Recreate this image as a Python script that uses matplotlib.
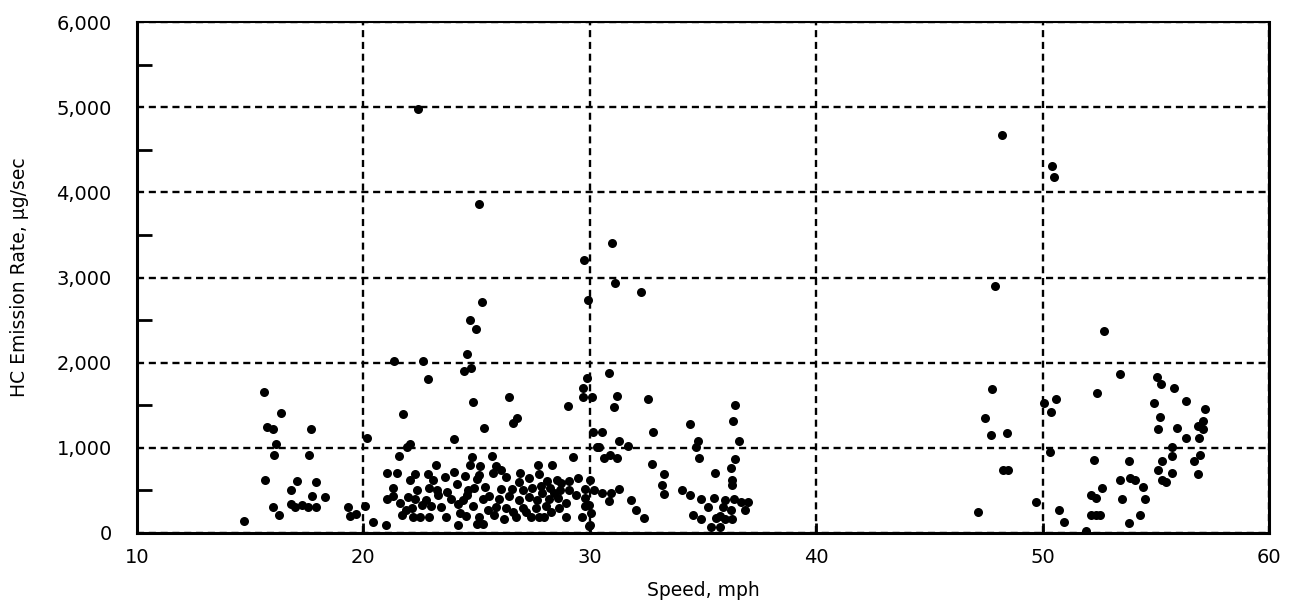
import matplotlib
matplotlib.use("Agg")
import matplotlib.pyplot as plt
import numpy as np
from matplotlib.ticker import FuncFormatter, MultipleLocator

# speed (mph) and HC emission rate (ug/sec)
speed_mph = [
    # 14-20 mph
    14.75, 15.60, 16.39, 15.75, 16.02, 17.71, 16.15, 16.04, 17.59, 15.66,
    17.06, 17.93, 16.81, 17.72, 18.30, 16.00, 16.79, 17.00, 17.28, 17.54,
    17.93, 16.30, 19.33, 19.40, 19.66, 20.06, 20.16,
    # 20-25 mph
    21.74, 22.06, 21.92, 23.99, 24.84, 21.57, 24.81, 21.04, 21.50, 22.28,
    22.86, 23.23, 22.06, 24.69, 24.47, 24.15, 21.33, 22.38, 22.88, 23.26,
    23.70, 24.62, 21.04, 21.33, 21.62, 21.99, 22.28, 22.79, 23.01, 23.45,
    23.89, 24.18, 24.40, 24.84, 22.14, 21.70, 22.21, 22.50, 22.91, 23.67,
    24.25, 24.55, 20.43, 21.01, 24.20, 25.01,
    # 25-30 mph
    29.02, 25.31, 26.59, 26.77, 30.13, 30.32, 25.69, 27.73, 28.35, 29.25,
    25.16, 25.86, 26.08, 25.71, 25.13, 27.76, 28.13, 28.57, 28.72, 29.08,
    26.86, 24.87, 25.39, 26.08, 26.57, 27.03, 27.44, 27.84, 28.23, 28.67,
    29.08, 29.81, 30.18, 25.28, 25.57, 26.01, 26.45, 26.89, 27.32, 27.69,
    28.20, 28.61, 28.93, 29.81, 25.86, 26.30, 27.03, 27.62, 28.06, 28.64,
    29.81, 25.13, 25.79, 26.74, 27.40, 27.76, 27.98, 28.93, 29.66, 25.28,
    29.96, 30.00, 29.95, 30.05,
    23.10, 23.60, 24.00, 26.30, 26.90, 27.30, 27.90, 28.40, 29.40, 29.50,
    26.60, 27.20, 28.30, 24.60, 25.00, 25.50, 26.20, 23.30, 22.60, 21.90,
    # high readings 20-31 mph
    22.43, 25.13, 29.74, 29.93, 25.25, 24.69, 24.98, 24.57, 21.36, 22.65,
    24.43, 24.77, 22.84, 29.88, 29.70, 30.10, 26.45, 29.72, 31.00,
    # 30-37 mph
    31.10, 32.27, 30.83, 31.20, 31.05, 32.56, 30.54, 31.30, 31.68, 30.39,
    32.81, 30.61, 30.91, 31.20, 34.42, 34.78, 34.71, 34.81, 36.39, 36.32,
    36.57, 36.39, 36.24, 36.27, 36.27, 32.76, 33.29, 33.20, 33.29, 35.51,
    34.05, 34.42, 30.54, 30.95, 31.30, 30.86, 31.83, 32.03, 32.38, 30.03,
    34.90, 35.22, 35.48, 35.95, 35.88, 36.36, 36.68, 36.97, 36.83, 36.24,
    34.56, 34.93, 35.58, 35.73, 35.95, 36.27, 35.34, 35.73,
    # 47-58 mph
    48.20, 50.42, 50.51, 47.91, 52.72, 47.74, 47.44, 47.70, 48.41, 50.06,
    50.60, 50.35, 52.40, 50.31, 48.26, 48.45, 52.25, 49.69, 47.13, 50.72,
    50.94, 51.92, 52.11, 52.33, 52.59, 52.11, 52.33, 52.54, 53.39, 55.03,
    55.22, 55.79, 54.92, 56.34, 57.15, 55.18, 57.07, 55.08, 55.94, 56.86,
    57.07, 56.30, 56.89, 55.69, 55.69, 55.28, 56.67, 56.94, 55.10, 55.69,
    56.86, 55.25, 55.44, 53.79, 53.39, 53.83, 54.05, 54.40, 53.48, 54.49,
    54.27, 53.79,
]

hc_rate = [
    # 14-20 mph
    140, 1650, 1410, 1250, 1220, 1220, 1050, 920, 910, 620,
    610, 600, 510, 435, 425, 310, 335, 300, 330, 300,
    300, 205, 300, 195, 220, 320, 1120,
    # 20-25 mph
    1400, 1045, 1015, 1100, 1540, 905, 890, 710, 710, 695,
    695, 800, 620, 800, 665, 580, 530, 500, 530, 500,
    485, 500, 400, 430, 355, 425, 400, 390, 320, 305,
    400, 345, 390, 315, 295, 205, 190, 190, 190, 190,
    235, 195, 125, 95, 90, 105,
    # 25-30 mph
    1495, 1235, 1295, 1345, 1190, 1015, 900, 800, 800, 890,
    790, 790, 745, 710, 685, 695, 605, 625, 585, 605,
    595, 530, 540, 515, 515, 500, 530, 550, 530, 500,
    510, 515, 500, 400, 430, 400, 430, 390, 425, 390,
    400, 405, 355, 410, 305, 295, 295, 295, 315, 295,
    315, 190, 215, 190, 190, 190, 190, 190, 190, 100,
    80, 620, 330, 230,
    620, 660, 720, 660, 700, 640, 470, 470, 450, 640,
    250, 250, 250, 440, 630, 270, 160, 450, 330, 270,
    # high readings 20-31 mph
    4975, 3865, 3210, 2740, 2710, 2500, 2390, 2100, 2020, 2020,
    1905, 1935, 1805, 1815, 1700, 1600, 1600, 1600, 3410,
    # 30-37 mph
    2940, 2835, 1880, 1610, 1475, 1575, 1190, 1085, 1025, 1015,
    1185, 880, 920, 880, 1275, 1075, 1015, 880, 1505, 1310,
    1075, 870, 765, 625, 565, 810, 695, 565, 460, 710,
    510, 450, 470, 475, 515, 370, 385, 275, 180, 90,
    400, 305, 410, 385, 305, 400, 360, 360, 265, 265,
    205, 165, 180, 195, 165, 165, 75, 75,
    # 47-58 mph
    4675, 4310, 4175, 2895, 2375, 1685, 1350, 1155, 1175, 1530,
    1570, 1425, 1640, 945, 745, 745, 860, 360, 245, 265,
    125, 20, 440, 410, 530, 215, 215, 215, 1865, 1830,
    1755, 1705, 1525, 1550, 1455, 1360, 1320, 1225, 1230, 1260,
    1220, 1115, 1115, 1010, 900, 840, 840, 920, 735, 710,
    695, 620, 595, 840, 620, 650, 625, 535, 400, 400,
    215, 120,
]

plt.rcParams['font.family'] = ['DejaVu Sans']

fig = plt.figure(figsize=(12.9, 6.14), dpi=100)
ax = fig.add_axes([0.106, 0.132, 0.878, 0.832])

ax.plot(speed_mph, hc_rate, 'o', color='black', markersize=6.5, markeredgewidth=0)

ax.set_xlim(10, 60)
ax.set_ylim(0, 6000)
ax.xaxis.set_major_locator(MultipleLocator(10))
ax.yaxis.set_major_locator(MultipleLocator(1000))
ax.yaxis.set_minor_locator(MultipleLocator(500))
ax.yaxis.set_major_formatter(FuncFormatter(lambda v, p: f"{int(v):,}"))

ax.grid(True, which='major', color='black', linestyle=(0, (3, 2)), linewidth=1.7)

ax.tick_params(axis='y', which='major', length=0, pad=18, labelsize=14)
ax.tick_params(axis='y', which='minor', direction='in', length=11, width=2)
ax.tick_params(axis='x', which='major', direction='in', length=7, width=2,
               pad=11, labelsize=14)

for side in ['left', 'bottom', 'right', 'top']:
    ax.spines[side].set_linewidth(2.2)
ax.spines['top'].set_linewidth(1.5)

ax.set_xlabel("Speed, mph", fontsize=13.5, labelpad=10)
ax.set_ylabel("HC Emission Rate, \u03bcg/sec", fontsize=13.5, labelpad=20)

fig.savefig("out.png", dpi=100)
